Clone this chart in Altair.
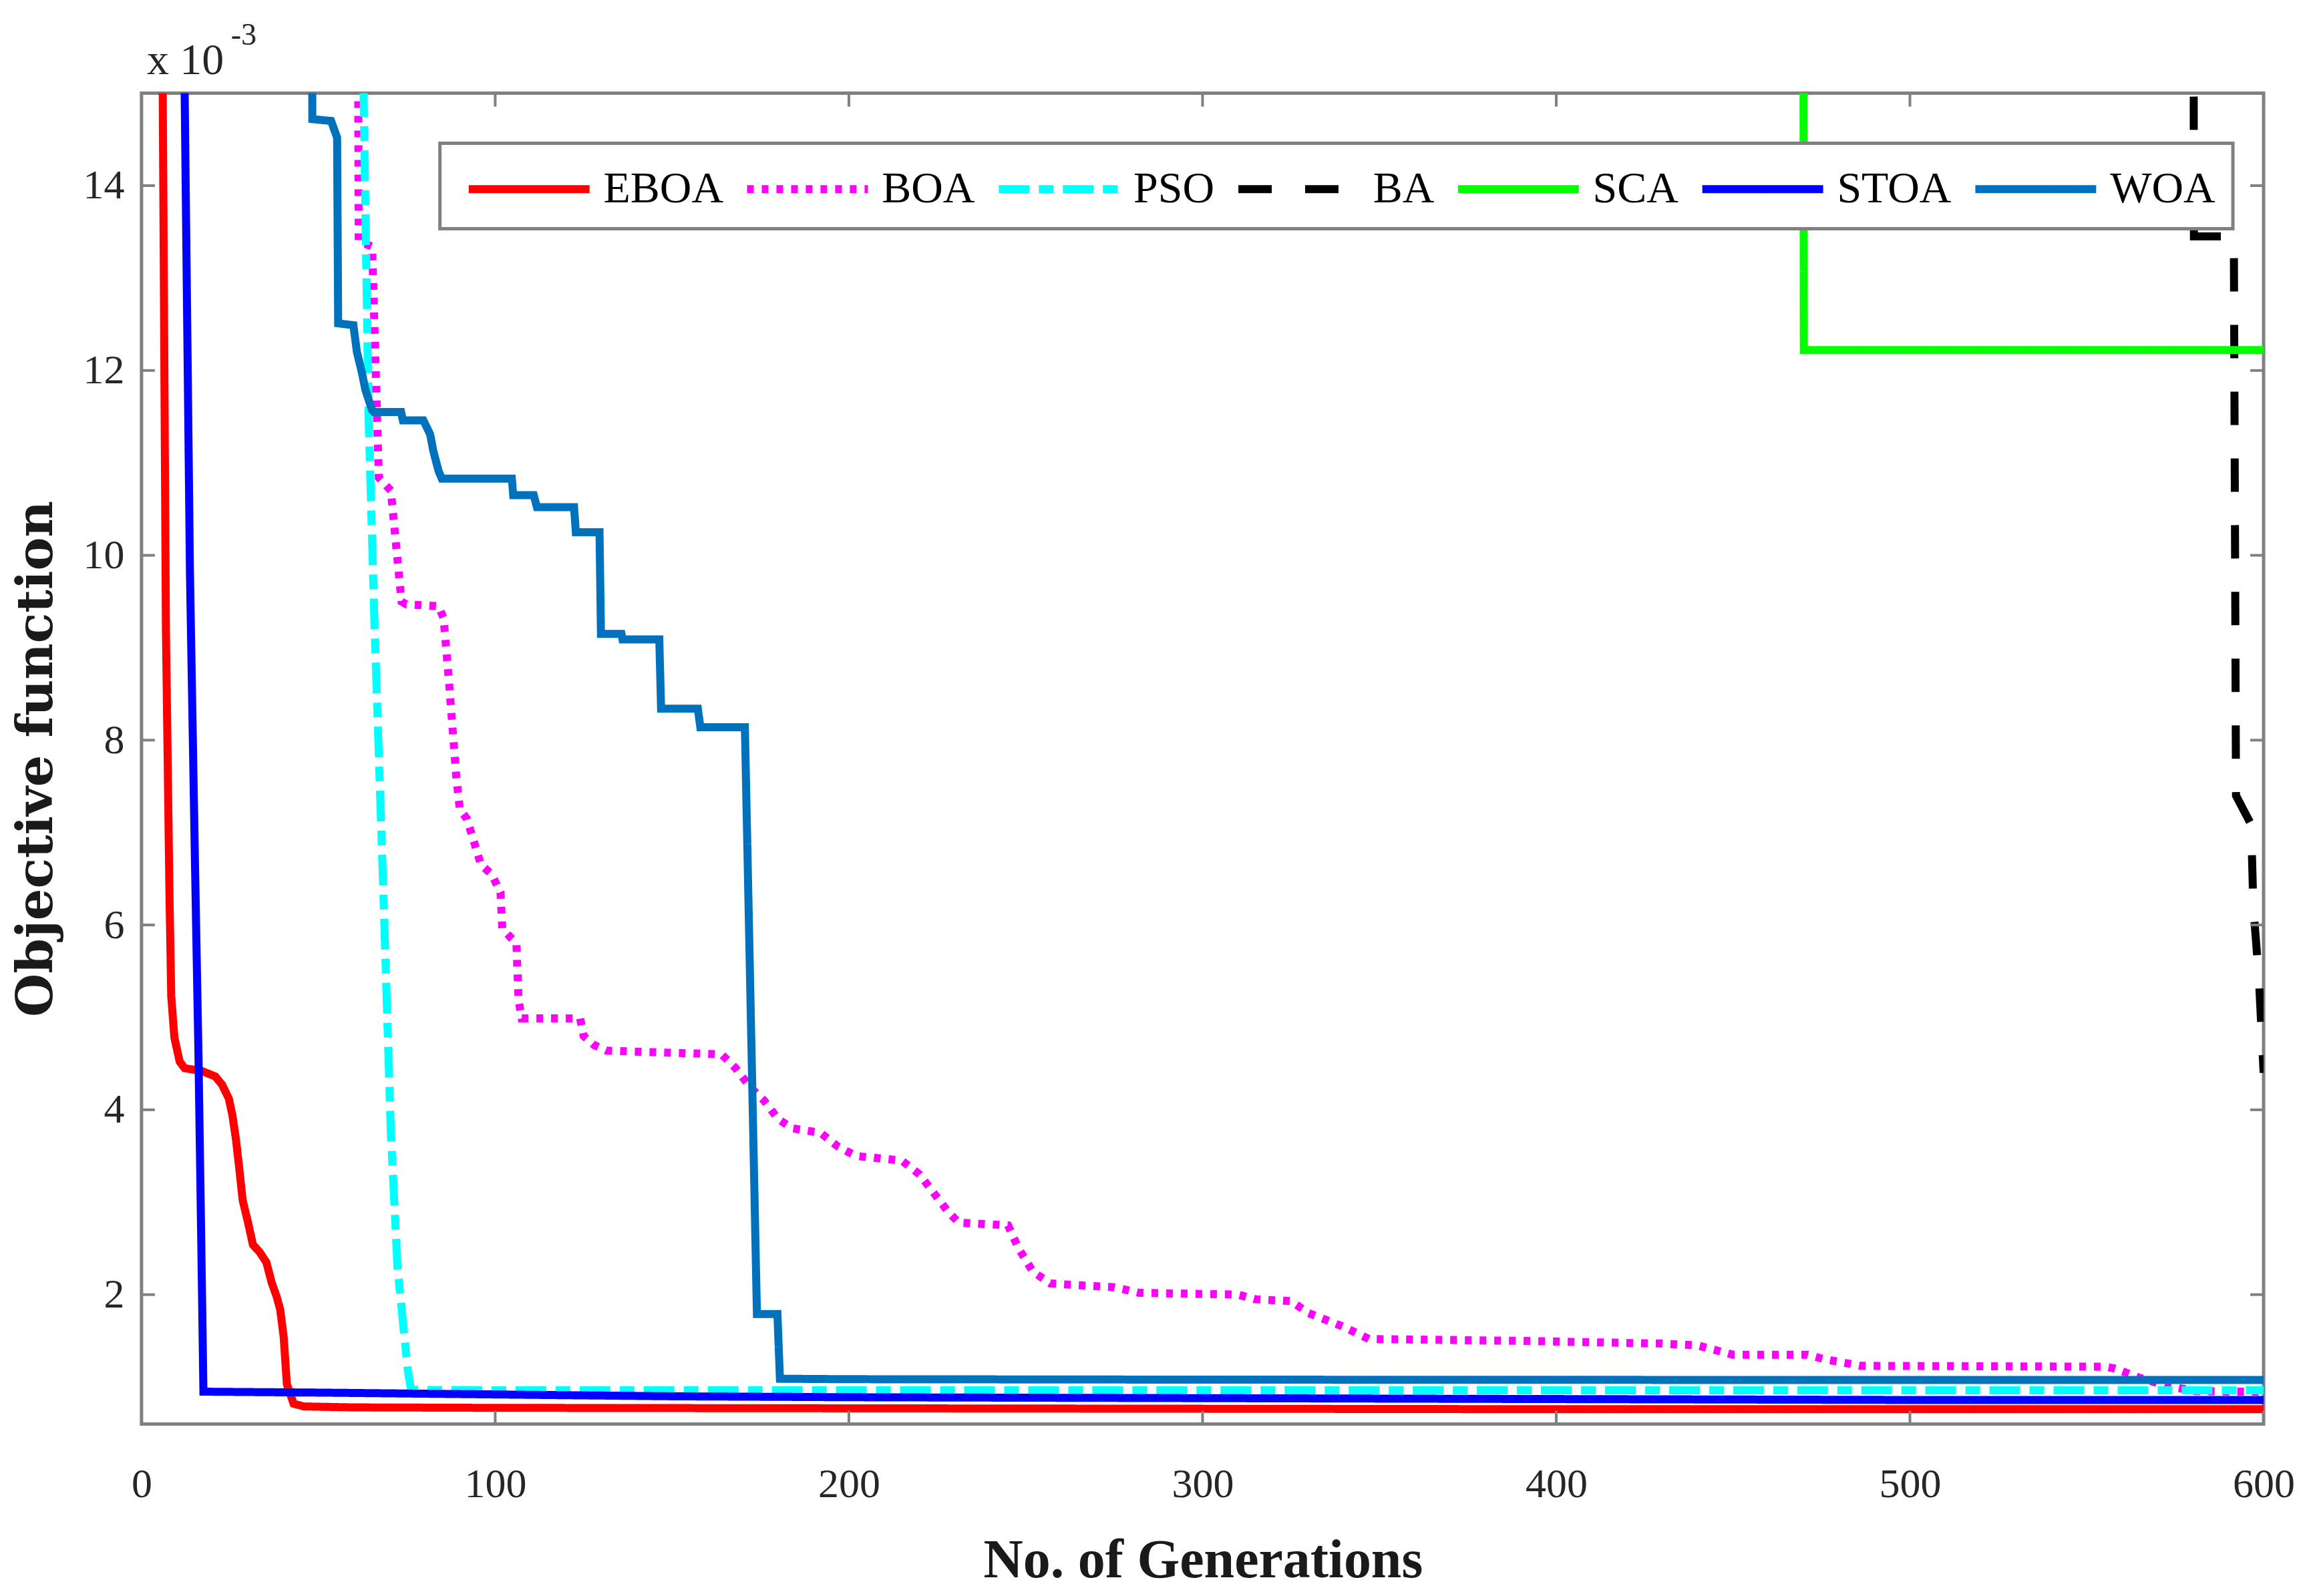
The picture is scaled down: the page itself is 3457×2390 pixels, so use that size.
import altair as alt
import pandas as pd

# ---------------- data (values in units of 1e-3) ----------------
algs = ["EBOA", "BOA", "PSO", "BA", "SCA", "STOA", "WOA"]
colors = ["#FF0000", "#FF00FF", "#00FFFF", "#000000", "#00FF00", "#0000FF", "#0072BD"]
dashes = [[1, 0], [10, 12], [46, 14, 22, 14], [50, 50], [1, 0], [1, 0], [1, 0]]

eboa_gen = [0, 2, 4, 6.0, 6.9, 7.9, 8.4, 9.3, 10.8, 12.2, 17.0, 20.9, 22.8, 24.7, 25.7, 26.7,
            27.6, 28.6, 30.0, 31.5, 33.4, 35.3, 36.8, 38.2, 39.2, 40.2, 41.1, 43.0, 45.9, 60,
            100, 200, 300, 400, 500, 600]
eboa_val = [60, 35, 22, 15.0, 9.2, 6.33, 5.23, 4.78, 4.52, 4.45, 4.42, 4.36, 4.27, 4.12, 3.94,
            3.68, 3.38, 3.02, 2.80, 2.54, 2.46, 2.35, 2.13, 1.98, 1.84, 1.54, 1.03, 0.82, 0.79,
            0.78, 0.775, 0.77, 0.765, 0.76, 0.76, 0.76]

boa_gen = [50, 61.2, 61.4, 65.2, 67.1, 70.5, 73.5, 74.8, 84.0, 85.4, 87, 89, 90, 92, 94, 96, 99,
           101.5, 102, 106, 106.6, 107.5, 124, 125, 128, 131.5, 164, 168, 172, 176, 180, 184,
           192, 197, 202, 215, 220, 224, 228, 231, 245, 248, 252, 257, 275, 282, 310, 315, 325,
           330, 340, 347, 390, 430, 440, 445, 450, 471, 476, 486, 555, 558, 565, 572, 580, 590,
           600]
boa_val = [30, 16, 13.4, 13.34, 10.84, 10.7, 9.5, 9.47, 9.45, 9.32, 8.6, 7.6, 7.25, 7.15, 6.9,
           6.65, 6.55, 6.35, 5.96, 5.8, 5.19, 4.99, 4.99, 4.8, 4.7, 4.64, 4.6, 4.45, 4.25, 4.1,
           3.9, 3.8, 3.75, 3.6, 3.5, 3.45, 3.3, 3.1, 2.9, 2.78, 2.75, 2.5, 2.25, 2.12, 2.08, 2.02,
           2.0, 1.95, 1.93, 1.8, 1.65, 1.52, 1.5, 1.47, 1.45, 1.4, 1.35, 1.35, 1.3, 1.23, 1.22,
           1.2, 1.1, 1.02, 0.96, 0.95, 0.95]

pso_gen = [30, 55, 62.8, 64.2, 65.9, 68.4, 70.5, 72.4, 75.3, 76.2, 100, 200, 300, 400, 500, 600]
pso_val = [40, 25, 15.0, 11.5, 9.22, 6.33, 3.75, 2.28, 1.18, 0.97, 0.965, 0.965, 0.965, 0.965,
           0.965, 0.965]

ba_gen = [570, 580.2, 580.3, 591.2, 591.6, 592.2, 596.3, 596.6, 597.1, 598.7, 600]
ba_val = [20, 16, 13.45, 13.45, 13.3, 7.4, 7.1, 6.9, 6.2, 5.4, 4.4]

sca_gen = [460, 469.9, 470.0, 600]
sca_val = [20, 16, 12.22, 12.22]

stoa_gen = [0, 10, 12.2, 13.7, 15.1, 16.1, 16.9, 17.5, 50, 100, 150, 200, 300, 400, 500, 600]
stoa_val = [60, 25, 15.0, 9.8, 6.7, 4.6, 2.55, 0.95, 0.94, 0.92, 0.9, 0.89, 0.88, 0.87,
            0.86, 0.86]

woa_gen = [40, 48.2, 48.3, 53.6, 55.3, 55.6, 59.9, 60.9, 62.3, 63.3, 65.2, 65.7, 73.4, 73.9,
           79.7, 81.6, 82.5, 84.0, 84.9, 104.7, 105.1, 110.9, 111.8, 122.3, 122.8, 129.5, 129.9,
           135.7, 136.0, 146.4, 146.9, 157.3, 158.0, 170.6, 174.0, 179.8, 180.5, 200, 300, 400,
           500, 600]
woa_val = [25, 16, 14.72, 14.7, 14.52, 12.51, 12.49, 12.2, 11.98, 11.79, 11.57, 11.55, 11.55,
           11.46, 11.46, 11.31, 11.13, 10.91, 10.83, 10.83, 10.65, 10.65, 10.52, 10.52, 10.25,
           10.25, 9.15, 9.15, 9.09, 9.09, 8.34, 8.34, 8.14, 8.14, 1.79, 1.79, 1.09, 1.085, 1.08,
           1.078, 1.076, 1.076]

x_ticks = [0, 100, 200, 300, 400, 500, 600]
y_ticks = [2, 4, 6, 8, 10, 12, 14]

series = {
    "EBOA": (eboa_gen, eboa_val),
    "BOA": (boa_gen, boa_val),
    "PSO": (pso_gen, pso_val),
    "BA": (ba_gen, ba_val),
    "SCA": (sca_gen, sca_val),
    "STOA": (stoa_gen, stoa_val),
    "WOA": (woa_gen, woa_val),
}

rows = []
for name in algs:
    g, v = series[name]
    for i, (a, b) in enumerate(zip(g, v)):
        rows.append({"alg": name, "gen": a, "val": b, "i": i})
df = pd.DataFrame(rows)

# ---------------- layout ----------------
W, H = 3179, 1994
TICK = 20
FONT = "Liberation Serif"
TXT = "#262626"
FRAME = "#808080"

xs = alt.Scale(domain=[0, 600], nice=False, zero=False)
ys = alt.Scale(domain=[0.6, 15], nice=False, zero=False)

leg = alt.Legend(
    title=None, orient="none", legendX=447, legendY=75, direction="horizontal", columns=7,
    symbolType="M-0.7,0L4.3,0", symbolSize=5242, symbolStrokeWidth=12,
    labelFont=FONT, labelFontSize=66, labelColor="black", labelOffset=134, labelLimit=0,
    columnPadding=11, padding=26, strokeColor=FRAME, fillColor="white", zindex=1,
)

x_axis = alt.Axis(
    values=x_ticks, format="d", ticks=False, domain=False, grid=False,
    labelFont=FONT, labelFontSize=62, labelColor=TXT, labelPadding=60,
    labelFlush=False, labelOverlap=False,
    title="No. of Generations", titleFont=FONT, titleFontSize=82, titleFontWeight="bold",
    titleColor="#1a1a1a", titleX=1590, titleY=204, titleBaseline="middle")
y_axis = alt.Axis(
    values=y_ticks, format="d", ticks=False, domain=False, grid=False,
    labelFont=FONT, labelFontSize=62, labelColor=TXT, labelPadding=26,
    labelOverlap=False,
    title="Objective function", titleFont="DejaVu Serif", titleFontSize=75,
    titleFontWeight="bold", titleColor="#1a1a1a", titleX=-157, titleY=H / 2,
    titleAngle=270, titleAlign="center", titleBaseline="middle")

lines = alt.Chart(df).mark_line(strokeWidth=12, clip=True).encode(
    x=alt.X("gen:Q", scale=xs, axis=x_axis),
    y=alt.Y("val:Q", scale=ys, axis=y_axis),
    color=alt.Color("alg:N", scale=alt.Scale(domain=algs, range=colors), legend=leg),
    strokeDash=alt.StrokeDash("alg:N", scale=alt.Scale(domain=algs, range=dashes), legend=leg),
    order=alt.Order("i:Q"),
)

xt = pd.DataFrame({"gen": x_ticks})
yt = pd.DataFrame({"val": y_ticks})
rule = dict(color=FRAME, strokeWidth=4)

xt_bot = alt.Chart(xt).mark_rule(**rule).encode(
    x=alt.X("gen:Q", scale=xs, axis=x_axis), y=alt.value(H), y2=alt.value(H - TICK))
xt_top = alt.Chart(xt).mark_rule(**rule).encode(
    x=alt.X("gen:Q", scale=xs, axis=x_axis), y=alt.value(0), y2=alt.value(TICK))
yt_left = alt.Chart(yt).mark_rule(**rule).encode(
    y=alt.Y("val:Q", scale=ys, axis=y_axis), x=alt.value(0), x2=alt.value(TICK))
yt_right = alt.Chart(yt).mark_rule(**rule).encode(
    y=alt.Y("val:Q", scale=ys, axis=y_axis), x=alt.value(W), x2=alt.value(W - TICK))

mult = alt.Chart(pd.DataFrame({"t": ["x 10"]})).mark_text(
    align="left", baseline="alphabetic", font=FONT, fontSize=66, color=TXT
).encode(text="t:N", x=alt.value(8), y=alt.value(-29))
expo = alt.Chart(pd.DataFrame({"t": ["-3"]})).mark_text(
    align="left", baseline="alphabetic", font=FONT, fontSize=46, color=TXT
).encode(text="t:N", x=alt.value(134), y=alt.value(-73))

chart = alt.layer(lines, xt_bot, xt_top, yt_left, yt_right, mult, expo).properties(
    width=W, height=H,
    autosize=alt.AutoSizeParams(type="none"),
    padding={"left": 204, "top": 131, "right": 60, "bottom": 250},
    background="white",
).configure_view(
    stroke=FRAME, strokeWidth=5
).configure_legend(
    strokeWidth=5
)

chart.save("out.html", embed_options={"renderer": "svg", "actions": False})
